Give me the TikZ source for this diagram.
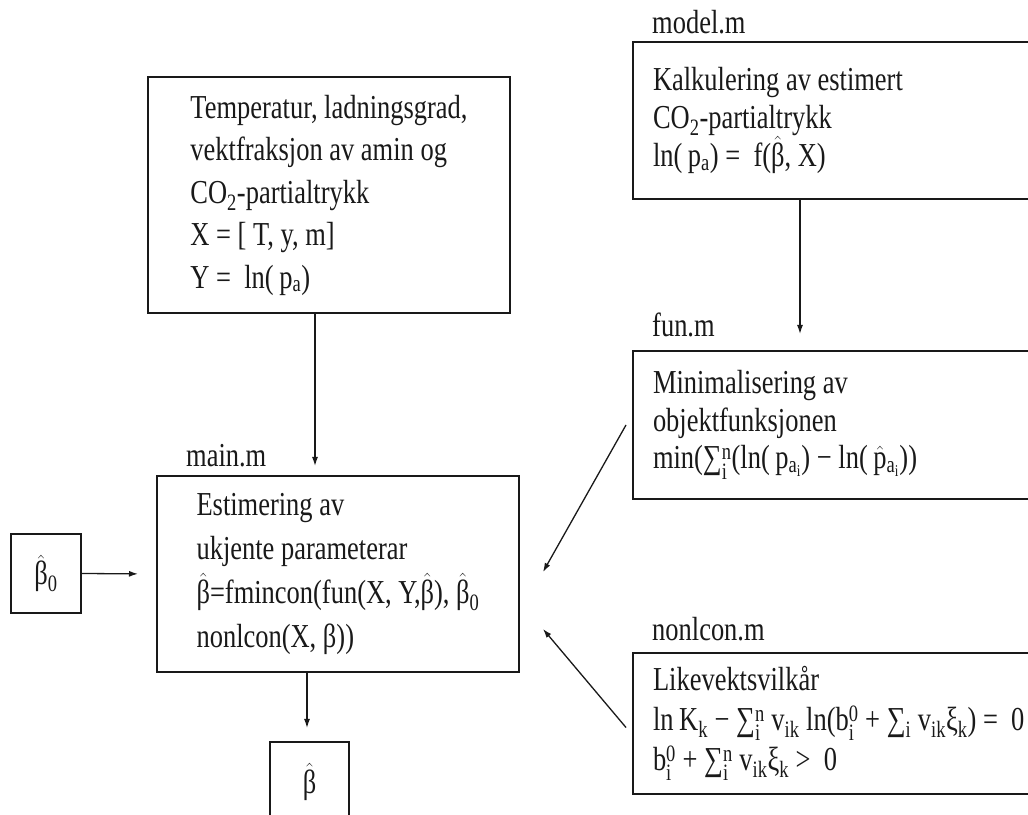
\documentclass[tikz,border=0pt]{standalone}
\usepackage{amsmath}
\usepackage[no-math]{fontspec}
\setmainfont[FakeStretch=0.79]{Liberation Serif}
\usepackage{xcolor}
\usepackage{tikz}
\usetikzlibrary{arrows.meta, positioning}
\definecolor{strek}{RGB}{25, 25, 25}
\tikzstyle{blokk} = [
    rectangle,
    draw=strek,
    line width=2pt,
    align=flush left,
    inner sep=0pt,
    text=strek
]
\tikzstyle{filblokk} = [
    blokk,
    text width=400pt,
    inner xsep=20pt
]
\tikzstyle{filnamn} = [
    anchor=base west,
    inner sep=0pt,
    text=strek
]
\tikzstyle{pil} = [
    line width=1.3pt,
    -{Latex[length=9pt, width=6pt]},
    color=strek
]
\newcommand{\hatt}[1]{\ensuremath{\hat{\mbox{#1}}}}
\newcommand{\grenser}[2]{\ensuremath{^{\text{#1}}_{\text{#2}}}}

\begin{document}
\begin{tikzpicture}[x=1pt, y=1pt, font=\fontsize{33.5}{40}\selectfont]
        \useasboundingbox (0,0) rectangle (1028,814);
        \clip (0,0) rectangle (1028,814);
        % Blokker
        \node[blokk, minimum width=362pt, minimum height=236pt, font={\fontsize{33.5}{42.5}\selectfont}] (inndata) at (329, 619)
            {Temperatur, ladningsgrad,\\ vektfraksjon av amin og\\ CO\textsubscript{2}-partialtrykk\\ X = [ T, y, m]\\ Y = \ ln(\,p\textsubscript{a})};
        \node[filblokk, minimum height=157pt, font={\fontsize{33.5}{38}\selectfont}] (model) at (853, 693.5)
            {Kalkulering av estimert\\ CO\textsubscript{2}-partialtrykk\\ ln(\,p\textsubscript{a}) = \ f(\hatt{β}, X)};
        \node[filblokk, minimum height=148pt, font={\fontsize{33.5}{37.5}\selectfont}] (fun) at (853, 389)
            {Minimalisering av\\ objektfunksjonen\\ min(∑\grenser{n}{i}(ln(\,p\textsubscript{a\textsubscript{i}}) − ln(\,\hatt{p}\textsubscript{a\textsubscript{i}}))};
        \node[filblokk, minimum height=141pt] (nonlcon) at (853, 90.5)
            {Likevektsvilkår\\ ln\,K\textsubscript{k} − ∑\grenser{n}{i} v\textsubscript{ik} ln(b\grenser{0}{i} + ∑\textsubscript{i} v\textsubscript{ik}ξ\textsubscript{k}) = \ 0\\ b\grenser{0}{i} + ∑\grenser{n}{i} v\textsubscript{ik}ξ\textsubscript{k} > \ 0};
        \node[blokk, minimum width=362pt, minimum height=196pt, font={\fontsize{33.5}{44}\selectfont}] (main) at (338, 240)
            {Estimering av\\ ukjente parameterar\\ \hatt{β}=fmincon(fun(X, Y,\hatt{β}), \hatt{β}\textsubscript{0}\\ nonlcon(X, β))};
        \node[blokk, minimum width=70pt, minimum height=79pt] (start) at (46, 240.5) {\hatt{β}\textsubscript{0}};
        \node[blokk, minimum width=79pt, minimum height=79pt] (resultat) at (309.5, 32.5) {\hatt{β}};

        % Filnamn
        \node[filnamn] (modelnamn) at ([xshift=20pt, yshift=7pt]model.north west) {model.m};
        \node[filnamn] (funnamn) at ([xshift=20pt, yshift=13pt]fun.north west) {fun.m};
        \node[filnamn] (nonlconnamn) at ([xshift=20pt, yshift=11pt]nonlcon.north west) {nonlcon.m};
        \node[filnamn] (mainnamn) at ([xshift=30pt, yshift=8pt]main.north west) {main.m};

        % Piler
        \draw[pil, shorten >=9pt] ([xshift=-14pt]inndata.south) -- ([xshift=-14pt]inndata.south |- main.north);
        \draw[pil, shorten >=16pt] ([xshift=-53pt]model.south) -- ([xshift=-53pt]model.south |- fun.north);
        \draw[pil, shorten >=18pt] (start.east) -- (main.west);
        \draw[pil, shorten >=13pt] ([xshift=-31pt]main.south) -- ([xshift=-31pt]main.south |- resultat.north);
        \draw[pil] ([xshift=-6pt]fun.west) -- ([shift={(23pt,2pt)}]main.east);
        \draw[pil] ([shift={(-6pt,-4pt)}]nonlcon.west) -- ([shift={(23pt,-55pt)}]main.east);
    \end{tikzpicture}
\end{document}
